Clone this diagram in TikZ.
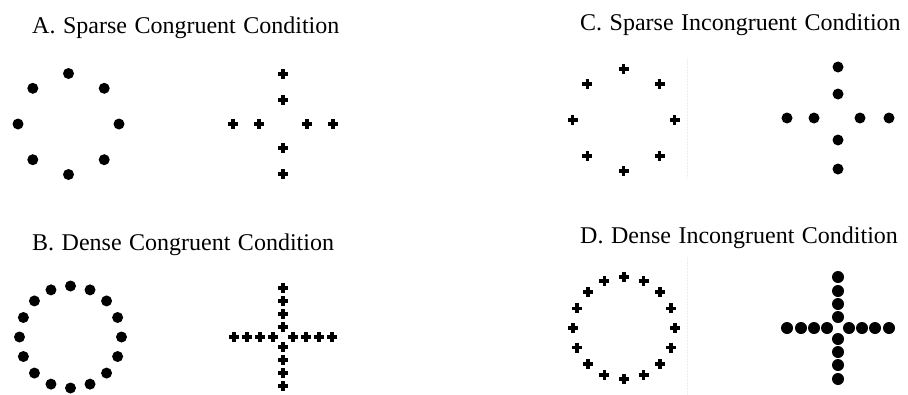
\documentclass[tikz,border=0pt]{standalone}
\usepackage{fontspec}
\setmainfont{Liberation Serif}
\usepackage{xcolor}
\usetikzlibrary{positioning}
\definecolor{ctinta}{HTML}{000000}
\definecolor{cguia}{HTML}{EDEDED}
\newcommand{\fuentetit}{\fontsize{24}{28}\selectfont\spaceskip=7.5pt\relax}
\tikzset{
  titulo/.style={anchor=base west, inner sep=0pt, font=\fuentetit},
  punto/.style={circle, fill=ctinta, inner sep=0pt, minimum size=11pt},
  puntog/.style={punto, minimum size=12pt},
  cruz/.pic={\draw[ctinta, line width=3.3pt] (-5,0) -- (5,0) (0,-5) -- (0,5);},
  guia/.style={cguia, densely dotted, line width=0.5pt},
}

\begin{document}
\begin{tikzpicture}[x=1pt, y=-1pt]
  \useasboundingbox (0,0) rectangle (908,394);
  \node[titulo] (ta) at (32,33) {A. Sparse Congruent Condition};
  \node[titulo] (tb) at (32,250) {B. Dense Congruent Condition};
  \node[titulo] (tc) at (580,30) {C. Sparse Incongruent Condition};
  \node[titulo] (td) at (580,243) {D. Dense Incongruent Condition};
  \draw[guia] (687,58) -- (687,178) (687,257) -- (687,394);
  % A
  \begin{scope}[shift={(68.5,124)}]
    \foreach \k in {0,...,7} \node[punto] (a\k) at (\k*45:50.5) {};
  \end{scope}
  \begin{scope}[shift={(283,124)}]
    \foreach \d in {-50,-24,24,50} {\pic at (\d,0) {cruz}; \pic at (0,\d) {cruz};}
  \end{scope}
  % B
  \begin{scope}[shift={(70.5,337)}]
    \foreach \k in {0,...,15} \node[punto] (b\k) at (\k*22.5:51) {};
  \end{scope}
  \begin{scope}[shift={(283,337)}]
    \foreach \d in {-49,-36,-23,-10,10,23,36,49} {\pic at (\d,0) {cruz}; \pic at (0,\d) {cruz};}
  \end{scope}
  % C
  \begin{scope}[shift={(623.5,120)}]
    \foreach \k in {0,...,7} \pic at (\k*45:51) {cruz};
  \end{scope}
  \begin{scope}[shift={(838,118)}]
    \foreach \d in {-51,-24,22,51} {\node[punto] (cx\d) at (\d,0) {}; \node[punto] (cy\d) at (0,\d) {};}
  \end{scope}
  % D
  \begin{scope}[shift={(624,328)}]
    \foreach \k in {0,...,15} \pic at (\k*22.5:51) {cruz};
  \end{scope}
  \begin{scope}[shift={(838,328)}]
    \foreach \d in {-51,-37,-24,-11,11,24,37,51} {\node[puntog] (dx\d) at (\d,0) {}; \node[puntog] (dy\d) at (0,\d) {};}
  \end{scope}
\end{tikzpicture}
\end{document}
